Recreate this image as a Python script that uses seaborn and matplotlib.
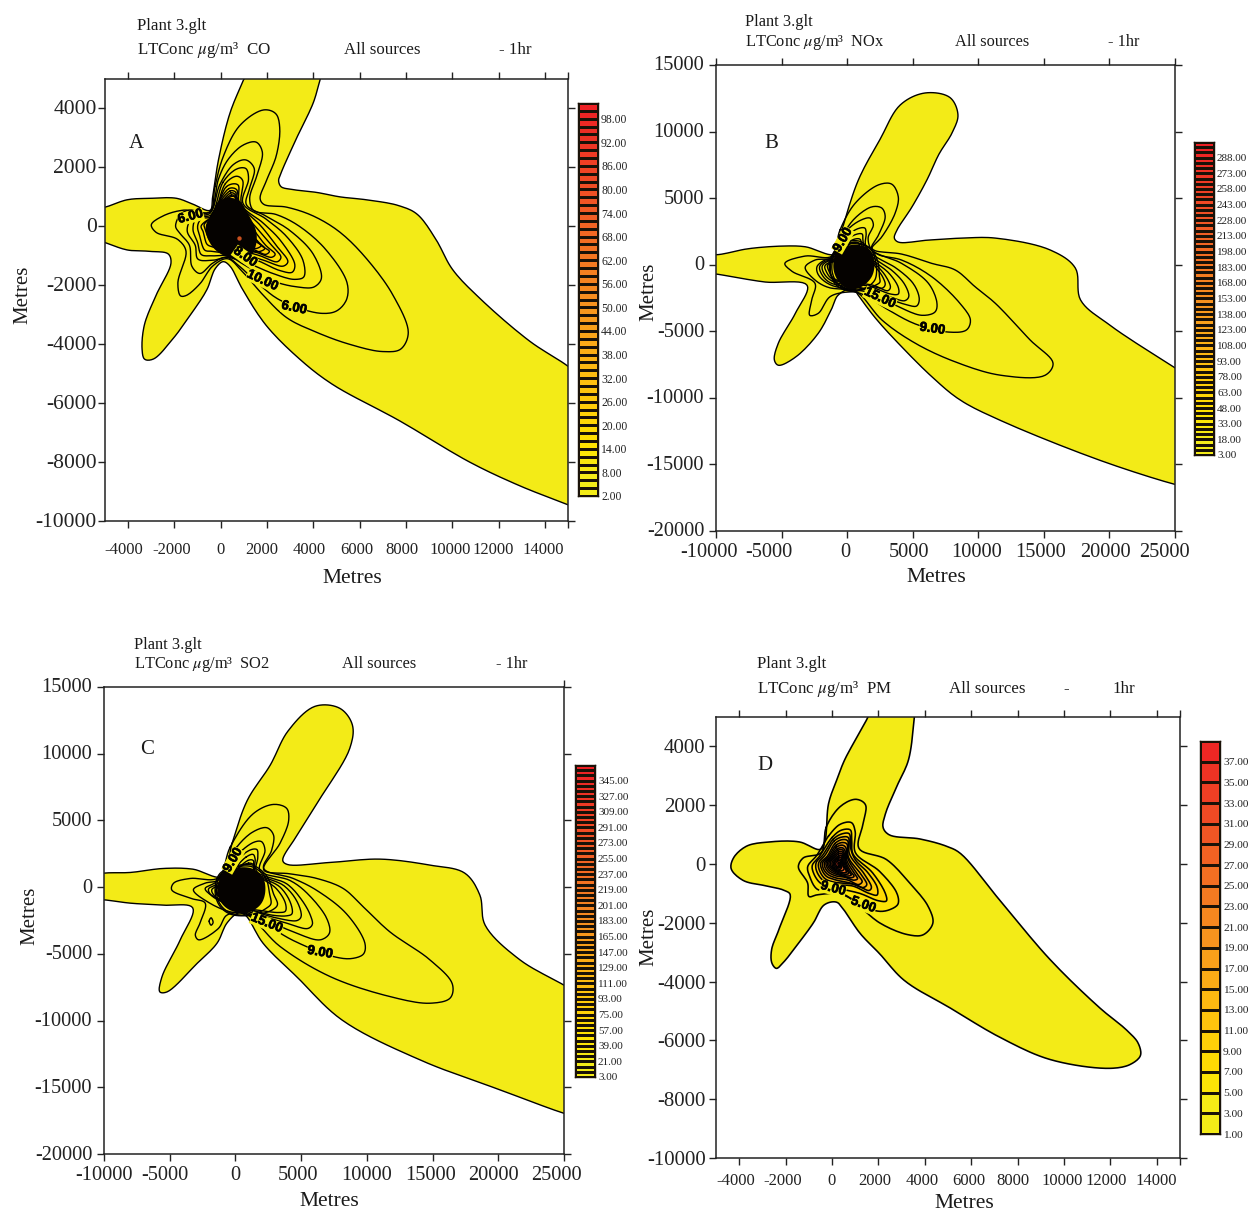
import numpy as np
import pandas as pd
import matplotlib
matplotlib.use("Agg")
import matplotlib.pyplot as plt
from matplotlib.colors import LinearSegmentedColormap
from matplotlib.transforms import ScaledTranslation
import matplotlib.patheffects as pe
import seaborn as sns

W, H = 1248, 1214

# ---------- Panel A contours (metres) ----------
a_2 = [(1000,5000),(1250,5500),(4500,5500),(4300,5000),(4000,4200),(3250,2950),(2600,1800),(2500,1550),(2600,1350),(3100,1250),(4150,1150),(5150,1000),(6300,900),(7700,700),(8500,400),(9300,-450),(10000,-1450),(11200,-2450),(13350,-3900),(15000,-4750),(15800,-5300),(15800,-9700),(15000,-9450),(12900,-8800),(10750,-8000),(7725,-6600),(4800,-5350),(3400,-4500),(1950,-3350),(950,-2150),(400,-1350),(100,-1200),(-250,-1450),(-600,-2150),(-1350,-3050),(-2050,-3800),(-2900,-4500),(-3300,-4500),(-3400,-4150),(-3300,-3350),(-2800,-2350),(-2150,-1250),(-2250,-950),(-3050,-850),(-4050,-800),(-5000,-550),(-5800,-350),(-5800,550),(-5000,650),(-4050,900),(-3050,950),(-1900,950),(-1200,750),(-450,550),(-350,1000),(-100,2250),(400,3850)]
a_4 = [(-250,1350),(100,2350),(800,3400),(1850,3950),(2400,3800),(2550,3300),(2400,2400),(2000,1600),(1700,950),(1850,750),(2850,650),(4000,350),(5150,-200),(6300,-1100),(7450,-2350),(8100,-3600),(7800,-4150),(7000,-4250),(5550,-4000),(4150,-3600),(2850,-3100),(1850,-2350),(950,-1550),(300,-1100),(-350,-1350),(-900,-1950),(-1500,-2350),(-1750,-2350),(-1850,-1900),(-1500,-850),(-1850,-450),(-2800,-200),(-3000,50),(-2500,350),(-1600,550),(-450,500)]
a_6 = [(-100,1600),(300,2250),(950,2750),(1550,2850),(1800,2500),(1550,1700),(1250,950),(1400,550),(2400,400),(3400,0),(4550,-800),(5450,-1900),(5450,-2450),(5050,-2850),(4300,-2950),(2550,-2500),(1700,-2000),(800,-1350),(250,-1050),(-350,-1250),(-900,-1600),(-1250,-1350),(-1350,-650),(-1750,-250),(-1950,0),(-1750,400),(-1350,550),(-450,500)]
a_8 = [(-50,1400),(550,2100),(1100,2250),(1450,1950),(1250,1300),(1100,750),(1950,350),(3000,-150),(4000,-950),(4350,-1750),(4050,-2050),(3250,-2050),(2250,-1850),(1100,-1350),(400,-1050),(-350,-1150),(-1000,-1100),(-1100,-650),(-1450,-150),(-1200,350),(-450,450)]
a_10 = [(100,1500),(700,1950),(1100,1950),(1200,1600),(950,800),(1950,250),(2850,-350),(3550,-1150),(3600,-1700),(3200,-1800),(2250,-1600),(1200,-1250),(400,-1000),(-350,-1000),(-850,-950),(-1000,-550),(-1200,-100),(-1050,300),(-400,400)]
a_12 = [(200,1450),(700,1700),(950,1550),(900,750),(1850,100),(2600,-500),(3200,-1300),(3100,-1550),(2550,-1500),(1550,-1150),(550,-950),(-350,-850),(-700,-800),(-900,-350),(-1000,0),(-850,250),(-350,350)]
a_14 = [(250,1350),(750,1400),(800,800),(1750,0),(2400,-650),(2900,-1200),(2700,-1350),(1850,-1150),(800,-900),(-350,-700),(-600,-600),(-750,-200),(-850,0),(-600,200),(-350,300)]
a_16 = [(350,1280),(700,1230),(700,800),(1600,-100),(2150,-600),(2600,-1050),(2450,-1200),(1700,-1000),(800,-800),(-300,-600),(-500,-450),(-650,-150),(-720,50),(-500,250)]
a_18 = [(400,1200),(650,1150),(650,800),(1450,-150),(1950,-650),(2350,-950),(2200,-1050),(1600,-900),(800,-750),(-300,-500),(-450,-300),(-600,-100),(-450,300)]
a_20 = [(430,1130),(620,1080),(1300,-200),(1750,-650),(2100,-850),(1950,-950),(1450,-800),(800,-650),(-250,-400),(-350,-100),(-520,100),(-350,400)]
a_22 = [(450,1060),(620,1010),(1200,-100),(1650,-550),(1900,-750),(1700,-850),(1300,-850),(700,-850),(-250,-500),(-450,-100),(-400,350)]
a_24 = [(480,1020),(620,980),(1150,0),(1500,-500),(1750,-650),(1550,-750),(1250,-750),(700,-900),(-250,-600),(-500,-150),(-380,400)]
a_core = [(-329,462),(-157,800),(318,969),(822,856),(1110,518),(1541,-213),(1469,-776),(1110,-1170),(534,-1114),(-185,-833),(-545,-439),(-646,12)]
a_levels = [2,4,6,8,10,12,14,16,18,20,22,24]

# ---------- Panel B contours ----------
b_3 = [(-400,2600),(850,6350),(2500,9400),(4050,12000),(5950,12900),(7850,12550),(8450,11250),(8000,9900),(7000,8300),(6100,6400),(4950,4350),(3800,2600),(3600,2000),(3900,1700),(6200,1850),(8800,2000),(11300,2000),(15500,1100),(17400,-250),(17800,-2650),(20050,-4550),(25000,-7750),(26000,-8400),(26000,-16700),(25000,-16500),(19300,-14700),(11700,-11700),(8600,-10150),(6500,-8450),(3900,-5900),(2150,-4000),(850,-2300),(450,-1750),(-700,-2300),(-1150,-3250),(-2200,-5150),(-3950,-6950),(-5250,-7550),(-5550,-7150),(-5250,-5900),(-3950,-3650),(-3050,-1550),(-6250,-1300),(-8800,-900),(-10000,-700),(-11000,-650),(-11000,900),(-10000,750),(-7550,1200),(-4950,1400),(-3200,1350),(-900,800)]
b_6 = [(-550,2600),(600,4600),(2400,6000),(3400,6050),(3900,5100),(3650,3850),(2650,2100),(1900,1250),(2150,1050),(4150,800),(6450,100),(8250,-400),(9750,-1650),(11300,-2900),(13950,-5650),(15700,-7400),(15100,-8300),(11700,-8300),(8250,-7300),(5200,-5900),(2650,-4150),(850,-2150),(100,-2050),(-1300,-2400),(-2200,-3650),(-2850,-3800),(-2700,-2650),(-2450,-1400),(-4200,-500),(-4750,100),(-3200,650),(-1150,650)]
b_9 = [(-400,2100),(600,3500),(1900,4350),(2650,4250),(2900,3600),(2400,2250),(1850,1200),(2400,750),(4150,350),(6450,-900),(8600,-2900),(9400,-4150),(9100,-4900),(7600,-5050),(5200,-4450),(3150,-3400),(1350,-2300),(100,-1900),(-1450,-1700),(-2450,-1150),(-3200,-200),(-2450,350),(-1150,550)]
b_12 = [(-200,2350),(850,3250),(1750,3500),(2000,3000),(1600,2000),(1900,1100),(4150,100),(6200,-1400),(6850,-2900),(6700,-3550),(5700,-3800),(3900,-3150),(1900,-2150),(-1300,-1500),(-2200,-750),(-2300,-150),(-1700,350),(-1050,500)]
b_15 = [(-100,2050),(800,2700),(1350,2750),(1450,2350),(1400,1500),(1900,800),(3800,-300),(5100,-1500),(5500,-2600),(5300,-3100),(4500,-3000),(2800,-2400),(1400,-1850),(-1300,-1350),(-1950,-700),(-2100,-150),(-1700,250),(-1000,400)]
b_18 = [(50,1900),(750,2300),(1150,2300),(1200,1900),(1300,1300),(1900,600),(3500,-500),(4400,-1500),(4700,-2400),(4400,-2700),(3500,-2500),(1800,-1900),(-1200,-1200),(-1800,-600),(-1900,-100),(-1500,250),(-900,350)]
b_21 = [(150,1700),(700,1950),(1000,1900),(1100,1500),(1300,1100),(1900,400),(3200,-650),(3900,-1700),(3900,-2200),(3300,-2200),(1800,-1650),(-1100,-1100),(-1600,-500),(-1700,-100),(-1300,200),(-800,300)]
b_24 = [(250,1600),(650,1700),(900,1600),(950,1300),(1300,900),(2000,200),(2900,-800),(3300,-1700),(3100,-1950),(2000,-1550),(-1000,-1050),(-1400,-450),(-1500,-50),(-1150,200),(-700,300)]
b_27 = [(-200,1650),(1000,1750),(1500,1300),(2000,100),(2700,-900),(2900,-1500),(2700,-1750),(1900,-1650),(500,-1900),(-900,-1300),(-1350,-300),(-1200,600)]
b_30 = [(-100,1580),(900,1620),(1800,1200),(2350,200),(2450,-800),(2500,-1300),(2250,-1500),(1500,-1800),(300,-2000),(-750,-1600),(-1200,-900),(-1250,100),(-950,1050)]
b_33 = [(-60,1500),(880,1550),(1780,1170),(2200,120),(2200,-900),(2000,-1300),(1300,-1800),(250,-1950),(-650,-1500),(-1100,-700),(-1150,100),(-870,1020)]
b_core = [(-1046,104),(-792,981),(-29,1407),(861,1482),(1750,1107),(2081,104),(1877,-898),(1115,-1650),(225,-1851),(-537,-1400),(-970,-648)]
b_levels = [3,6,9,12,15,18,21,24,27,30,33]

# ---------- Panel C contours ----------
c_3 = [(-250,3300),(900,6500),(2650,9150),(4000,11700),(6050,13550),(7950,13400),(8900,12150),(8700,10400),(6350,6500),(4700,3900),(3600,2000),(3950,1700),(7200,1850),(11000,2100),(14800,1650),(17450,1050),(18600,-600),(19000,-2850),(21650,-5450),(25000,-7350),(26000,-8000),(26000,-17200),(25000,-16950),(20150,-15200),(14050,-12950),(8100,-9950),(4700,-6750),(2100,-4200),(750,-2100),(200,-1950),(-650,-2700),(-1400,-4200),(-2900,-5700),(-5200,-7850),(-5750,-7850),(-5600,-6750),(-4200,-3950),(-3250,-1550),(-5500,-1350),(-8000,-1200),(-10000,-950),(-11000,-900),(-11000,850),(-10000,1050),(-8000,1100),(-5500,1400),(-3250,1350),(-1000,800)]
c_6 = [(-400,3000),(1350,5500),(2900,6200),(3900,5900),(4050,5000),(3400,3300),(2150,1300),(4150,1000),(6200,650),(8200,-100),(9750,-1500),(11750,-3350),(14800,-5450),(16500,-7250),(16350,-8300),(14800,-8700),(11750,-8200),(7200,-6700),(3400,-4450),(750,-2000),(-650,-2100),(-1300,-3100),(-2800,-3950),(-3050,-3600),(-2700,-2700),(-2300,-1200),(-3350,-850),(-4850,-200),(-4700,300),(-3450,650),(-1300,700)]
c_9 = [(100,3000),(1350,4150),(2400,4450),(2900,3900),(2750,2750),(2150,1400),(4400,650),(6200,-250),(8450,-2000),(9850,-4200),(9750,-5000),(8850,-5350),(7450,-5200),(4400,-4000),(2650,-3000),(750,-1950),(-400,-1850),(-1950,-1200),(-3200,-200),(-2300,300),(-1300,550)]
c_12 = [(500,2750),(1500,3400),(2000,3400),(2250,2750),(1850,1250),(4150,500),(5450,-450),(6950,-2350),(7150,-3450),(6450,-3950),(4400,-3350),(2650,-2600),(750,-1850),(-650,-1200),(-2050,-450),(-2300,-100),(-1450,400)]
c_15 = [(650,2500),(1350,2850),(1650,2800),(1700,2200),(1600,1200),(3900,250),(5000,-900),(5700,-2100),(5850,-2800),(5500,-3100),(3900,-2700),(1500,-2000),(-700,-1250),(-1850,-600),(-2050,-150),(-1300,300)]
c_18 = [(800,2250),(1350,2450),(1500,2100),(1500,1150),(3700,100),(4700,-1100),(5000,-2200),(4700,-2500),(3300,-2350),(1500,-1850),(-700,-1200),(-1600,-650),(-1800,-200),(-1100,250)]
c_21 = [(950,2000),(1350,2000),(1450,1100),(3400,0),(4200,-1200),(4300,-2000),(3900,-2150),(2800,-2100),(1400,-1750),(-600,-1150),(-1400,-550),(-1500,-200),(-1000,200)]
c_24 = [(1000,1800),(1400,1650),(1450,1100),(3100,-100),(3800,-1200),(3800,-1800),(3300,-1900),(1500,-1700),(-500,-1500),(-1300,-600),(-1400,-100),(-800,700)]
c_27 = [(100,1600),(1300,1650),(2400,800),(2900,-500),(3200,-1300),(2900,-1650),(1700,-2050),(-300,-2050),(-1200,-1400),(-1550,-300),(-1200,1000)]
c_30 = [(50,1500),(1280,1520),(2280,720),(2600,-500),(2700,-1250),(2400,-1550),(1300,-2050),(-350,-1950),(-1150,-1300),(-1450,-250),(-1120,950)]
c_loop = [(-2000,-2550),(-1850,-2300),(-1700,-2650),(-1850,-2850)]
c_core = [(-1374,-225),(-1044,899),(-157,1399),(1239,1399),(2127,649),(2254,-475),(1873,-1350),(859,-1925),(-410,-1725),(-1120,-1100)]
c_levels = [3,6,9,12,15,18,21,24,27,30]

# ---------- Panel D contours ----------
d_1 = [(-300,800),(-150,2050),(200,2850),(550,3550),(1550,5000),(1800,5500),(3600,5500),(3550,5000),(3300,3550),(2800,2650),(2300,1700),(2200,1250),(2450,1000),(3800,850),(4950,600),(5550,350),(7250,-1250),(9400,-3250),(11550,-4900),(12700,-5650),(13200,-6100),(13300,-6500),(12900,-6800),(12000,-6950),(9400,-6650),(7250,-5900),(5100,-4900),(3100,-3950),(2050,-3050),(1200,-2350),(500,-1550),(200,-1300),(-350,-1400),(-800,-2000),(-1400,-2650),(-2100,-3350),(-2400,-3550),(-2600,-3350),(-2600,-2900),(-2300,-2250),(-1800,-1050),(-2050,-900),(-2800,-750),(-3850,-550),(-4350,-150),(-4250,200),(-3700,600),(-2700,750),(-1400,750),(-500,500)]
d_3 = [(-250,1250),(350,1950),(1050,2200),(1450,2000),(1350,1400),(1150,550),(2350,150),(3350,-650),(4150,-1450),(4350,-2000),(3950,-2400),(3250,-2400),(2050,-2000),(1200,-1450),(550,-1050),(50,-1000),(-650,-1050),(-1000,-1100),(-1050,-650),(-1450,-100),(-1250,200),(-450,400)]
d_5 = [(-150,950),(350,1350),(850,1400),(1000,1100),(1000,400),(2050,-250),(2800,-1000),(2850,-1350),(2500,-1550),(1950,-1600),(900,-1200),(150,-950),(-650,-850),(-950,-450),(-1050,-100),(-650,300)]
d_7 = [(0,900),(400,1150),(800,1150),(850,800),(900,350),(1750,-300),(2300,-1000),(2350,-1250),(2000,-1250),(1200,-1000),(100,-800),(-500,-650),(-800,-300),(-850,-50),(-550,250)]
d_9 = [(60,850),(450,1030),(750,1020),(800,550),(1000,150),(1550,-300),(1950,-800),(1950,-1050),(1600,-1000),(900,-750),(100,-700),(-400,-550),(-680,-200),(-680,50),(-400,300)]
d_11 = [(90,780),(450,920),(710,890),(750,350),(1400,-350),(1700,-800),(1600,-900),(1000,-700),(100,-620),(-330,-480),(-570,-150),(-570,50),(-300,300)]
d_13 = [(130,700),(450,830),(680,780),(700,250),(1250,-350),(1500,-700),(1350,-800),(800,-650),(150,-540),(-270,-400),(-480,-100),(-480,50),(-200,270)]
d_15 = [(160,630),(450,730),(650,670),(680,200),(1100,-350),(1300,-600),(1150,-700),(700,-550),(150,-470),(-220,-330),(-400,-100),(-400,50),(-150,250)]
d_17 = [(190,570),(450,640),(600,550),(640,120),(950,-300),(1100,-500),(950,-550),(550,-450),(150,-400),(-170,-270),(-320,-80),(-320,50),(-100,230)]
d_19 = [(220,510),(450,550),(560,450),(600,80),(800,-250),(950,-420),(780,-470),(450,-400),(150,-340),(-120,-220),(-250,-50),(-250,60),(-50,230)]
d_21 = [(240,460),(450,480),(530,360),(570,40),(730,-250),(830,-370),(680,-410),(420,-370),(150,-290),(-80,-170),(-190,-30),(-180,70),(0,220)]
d_23 = [(260,400),(450,410),(500,280),(530,20),(660,-220),(720,-320),(590,-350),(380,-320),(140,-240),(-40,-130),(-130,-20),(-120,70),(50,220)]
d_25 = [(270,340),(430,350),(470,200),(490,0),(590,-190),(630,-270),(520,-300),(340,-270),(130,-200),(-10,-100),(-70,-10),(-60,70),(90,200)]
d_27 = [(290,280),(410,290),(440,120),(460,-30),(520,-170),(430,-230),(280,-220),(100,-150),(20,-60),(0,40),(120,170)]
d_29 = [(290,230),(390,220),(420,80),(430,-60),(370,-170),(260,-170),(110,-110),(60,-20),(60,40),(150,140)]
d_31 = [(250,170),(370,150),(390,20),(370,-100),(250,-130),(130,-60),(110,30),(160,110)]
d_33 = [(260,110),(350,100),(360,0),(340,-70),(240,-90),(170,-30),(170,40)]
d_37 = [(270,40),(330,40),(330,-40),(270,-40)]
d_levels = [1,3,5,7,9,11,13,15,17,19,21,23,25,27,29,31,33,37]

# ---------- Colour bar levels ----------
a_bar = list(range(2, 102, 2))
b_bar = list(range(3, 303, 5))
c_bar = list(range(3, 363, 6))
d_bar = list(range(1, 39, 2))
a_bar_labels = list(range(2, 104, 6))
b_bar_labels = list(range(3, 303, 15))
c_bar_labels = list(range(3, 363, 18))
d_bar_labels = list(range(1, 39, 2))

# ---------- Axis ticks ----------
short_x = [-4000,-2000,0,2000,4000,6000,8000,10000,12000,14000]
short_y = [-10000,-8000,-6000,-4000,-2000,0,2000,4000]
long_x = [-10000,-5000,0,5000,10000,15000,20000,25000]
long_y = [-20000,-15000,-10000,-5000,0,5000,10000,15000]

YELLOW = "#F3EB17"
cmap = LinearSegmentedColormap.from_list("conc", [(0,"#F3EB17"),(0.04,"#F4EC1A"),(0.12,"#FFE200"),(0.27,"#FFC20E"),(0.47,"#F7941E"),(0.72,"#F15A24"),(1,"#ED1C24")])

sns.set_theme(style="ticks")
plt.rcParams["font.family"] = ["Liberation Serif", "DejaVu Sans"]
plt.rcParams["mathtext.fontset"] = "stix"
plt.rcParams["axes.edgecolor"] = "#222222"
plt.rcParams["axes.linewidth"] = 1.1
plt.rcParams["xtick.color"] = "#222222"
plt.rcParams["ytick.color"] = "#222222"
plt.rcParams["text.color"] = "#1a1a1a"

fig = plt.figure(figsize=(W/100, H/100), dpi=100)

def box(l, t, r, b):
    return fig.add_axes([l/W, 1-b/H, (r-l)/W, (b-t)/H])

def smooth(pts, n=10):
    P = np.asarray(pts, float)
    N = len(P)
    out = []
    for i in range(N):
        p0, p1, p2, p3 = P[(i-1) % N], P[i], P[(i+1) % N], P[(i+2) % N]
        t0 = 0.0
        t1 = t0 + np.linalg.norm(p1-p0)**0.5
        t2 = t1 + np.linalg.norm(p2-p1)**0.5
        t3 = t2 + np.linalg.norm(p3-p2)**0.5
        t = np.linspace(t1, t2, n, endpoint=False)[:, None]
        A1 = (t1-t)/(t1-t0)*p0 + (t-t0)/(t1-t0)*p1
        A2 = (t2-t)/(t2-t1)*p1 + (t-t1)/(t2-t1)*p2
        A3 = (t3-t)/(t3-t2)*p2 + (t-t2)/(t3-t2)*p3
        B1 = (t2-t)/(t2-t0)*A1 + (t-t0)/(t2-t0)*A2
        B2 = (t3-t)/(t3-t1)*A2 + (t-t1)/(t3-t1)*A3
        out.append((t2-t)/(t2-t1)*B1 + (t-t1)/(t2-t1)*B2)
    out = np.vstack(out)
    return np.vstack([out, out[:1]])

def draw_panel(ax, contours, levels, vmax, core, xlim, ylim, xt, yt, xsize, ysize, xpad, ypad,
               xshift, yshift=0.0, top=True, extra=None, lw=1.0):
    rows = []
    for i, (lev, pts) in enumerate(zip(levels, contours)):
        s = smooth(pts)
        ax.fill(s[:, 0], s[:, 1], color=cmap((lev-levels[0])/(vmax-levels[0])), lw=0)
        rows.append(pd.DataFrame({"x": s[:, 0], "y": s[:, 1], "c": i}))
    if extra is not None:
        s = smooth(extra)
        rows.append(pd.DataFrame({"x": s[:, 0], "y": s[:, 1], "c": len(rows)}))
    df = pd.concat(rows, ignore_index=True)
    sns.lineplot(data=df, x="x", y="y", units="c", estimator=None, sort=False,
                 color="black", lw=lw, legend=False, ax=ax)
    if core is not None:
        s = smooth(core)
        ax.fill(s[:, 0], s[:, 1], color="#050200", lw=0, zorder=3)
    ax.set_xlim(*xlim); ax.set_ylim(*ylim)
    ax.set_xlabel(""); ax.set_ylabel("")
    ax.set_xticks(xt); ax.set_yticks(yt)
    ax.set_xticklabels([str(v) for v in xt], fontsize=xsize)
    ax.set_yticklabels([str(v) for v in yt], fontsize=ysize)
    ax.tick_params(axis="x", direction="out", length=5, width=1.0, top=top, bottom=True, pad=xpad)
    ax.tick_params(axis="y", direction="out", length=5, width=1.0, left=True, right=True, pad=ypad)
    for s in ax.spines.values():
        s.set_visible(True)
    if xt[-1] != xlim[1]:
        ax.set_xticks([xlim[1]], minor=True)
        ax.tick_params(axis="x", which="minor", direction="out", length=5, width=1.0, top=top, bottom=True)
    for lab, dx in zip(ax.get_xticklabels(), xshift):
        lab.set_transform(lab.get_transform() + ScaledTranslation(dx/100, 0, fig.dpi_scale_trans))
    if yshift:
        for lab in ax.get_yticklabels():
            lab.set_transform(lab.get_transform() + ScaledTranslation(0, yshift/100, fig.dpi_scale_trans))

def draw_bar(cax, levels, labels, vmax, step, size, lw):
    vals = np.array(levels[::-1], float).reshape(-1, 1)
    sns.heatmap(vals, cmap=cmap, vmin=levels[0], vmax=vmax, cbar=False, linewidths=lw,
                linecolor="#1a1208", xticklabels=False, yticklabels=False, ax=cax)
    n = len(levels)
    pos = [n - (v - levels[0]) / step for v in labels]
    cax.yaxis.tick_right()
    cax.set_yticks(pos)
    cax.set_yticklabels([f"{v:.2f}" for v in labels], fontsize=size, rotation=0)
    cax.tick_params(axis="y", length=0, pad=2.2)
    cax.set_xlabel(""); cax.set_ylabel("")
    for s in cax.spines.values():
        s.set_visible(True); s.set_color("#1a1208"); s.set_linewidth(1.0)

def T(x, y, s, size, **kw):
    fig.text(x/W, 1-(y+2)/H, s, fontsize=size, va=kw.pop("va", "center"), **kw)

def clabel(ax, x, y, s, rot):
    ax.text(x, y, s, rotation=rot, rotation_mode="anchor", ha="center", va="center", zorder=6,
            family="Liberation Sans", weight="bold", fontsize=9.5, color="black",
            bbox=dict(facecolor=YELLOW, edgecolor="none", pad=0.2),
            path_effects=[pe.withStroke(linewidth=0.5, foreground="black")])

# ---- Panel A
axA = box(105, 79, 568, 521)
draw_panel(axA, [a_2,a_4,a_6,a_8,a_10,a_12,a_14,a_16,a_18,a_20,a_22,a_24], a_levels, 100, a_core,
           (-5000,15000), (-10000,5000), short_x, short_y, 12, 15.5, 10, 1,
           [-4,-3,0,-5,-4,-3,-4,-2,-5,-2], yshift=1)
sns.scatterplot(x=[800], y=[-400], color="#C8501E", s=10, linewidth=0, zorder=5, ax=axA, legend=False)
axA.set_xlim(-5000,15000); axA.set_ylim(-10000,5000); axA.set_xlabel(""); axA.set_ylabel("")
clabel(axA, -1300, 320, "6.00", 15)
clabel(axA, 3170, -2780, "6.00", -12)
clabel(axA, 1050, -1050, "8.00", -35)
clabel(axA, 1800, -1850, "10.00", -25)
draw_bar(box(578, 103, 598, 496), a_bar, a_bar_labels, 102, 2, 8.4, 0.9)

# ---- Panel B
axB = box(716, 65, 1175, 531)
draw_panel(axB, [b_3,b_6,b_9,b_12,b_15,b_18,b_21,b_24,b_27,b_30,b_33], b_levels, 303, b_core,
           (-10000,25000), (-20000,15000), long_x, long_y, 14.7, 14.7, 3.5, 3.5,
           [-7,-13,-2,-4,-2,-3,-4,-11], yshift=1.5)
clabel(axB, 6500, -4850, "9.00", -8)
clabel(axB, 2500, -2530, "15.00", -25)
clabel(axB, -300, 1850, "9.00", 60)
draw_bar(box(1194, 142, 1214, 455), b_bar, b_bar_labels, 303, 5, 8, 0.85)

# ---- Panel C
axC = box(104, 687, 564, 1154)
draw_panel(axC, [c_3,c_6,c_9,c_12,c_15,c_18,c_21,c_24,c_27,c_30], c_levels, 363, c_core,
           (-10000,25000), (-20000,15000), long_x, long_y, 14.7, 14.7, 4, 3.5,
           [0,-5,0,-3,0,-2,-5,-8], yshift=1.5, top=False, extra=c_loop)
sec = axC.secondary_xaxis("top")
sec.set_xticks([25000]); sec.set_xticklabels([""])
sec.tick_params(direction="out", length=5, width=1.0)
sec.spines["top"].set_visible(False)
clabel(axC, 6440, -4920, "9.00", -10)
clabel(axC, 2380, -2725, "15.00", -22)
clabel(axC, -160, 2020, "9.00", 60)
draw_bar(box(575, 765, 595, 1077), c_bar, c_bar_labels, 363, 6, 8, 1.0)

# ---- Panel D
axD = box(716, 717, 1180, 1158)
draw_panel(axD, [d_1,d_3,d_5,d_7,d_9,d_11,d_13,d_15,d_17,d_19,d_21,d_23,d_25,d_27,d_29,d_31,d_33,d_37],
           d_levels, 39, None,
           (-5000,15000), (-10000,5000), short_x, short_y, 12, 15, 6, 2.5,
           [-3,-3,0,-4,-3,-2,-5,-2,-4,-1], lw=1.15)
clabel(axD, 1350, -1400, "5.00", -20)
clabel(axD, 50, -850, "9.00", -15)
draw_bar(box(1200, 741, 1220, 1134), d_bar, d_bar_labels, 39, 2, 8.2, 1.0)

# ---- Headers and labels
for x, y1, y2, sp, xall, xhr, hr, sz in [
    (137, 24, 48, "CO", 344, 499, "- 1hr", 12.2),
    (745, 20, 40, "NOx", 955, 1108, "- 1hr", 11.8),
    (134, 643, 662, "SO2", 342, 496, "- 1hr", 11.8),
    (757, 662, 687, "PM", 949, 1063, "-", 12.2)]:
    T(x, y1, "Plant 3.glt", sz)
    T(x, y2, r"LTConc $\mu$g/m³  " + sp, sz)
    T(xall, y2, "All sources", sz)
    T(xhr, y2, hr, sz)
T(1113, 687, "1hr", 12.2)

for x, y, s in [(136,141,"A"), (771,141,"B"), (147,748,"C"), (765,763,"D")]:
    T(x, y, s, 15, ha="center")
for x, y in [(352,576), (936,575), (329,1199), (964,1201)]:
    T(x, y, "Metres", 15.5, ha="center")
for x, y in [(23,293), (649,290), (30,914), (649,935)]:
    T(x, y, "Metres", 15, ha="center", rotation=90)

fig.savefig("out.png", dpi=100)
